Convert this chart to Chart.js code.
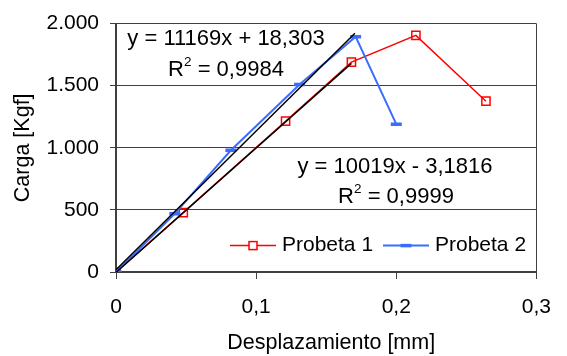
<!DOCTYPE html>
<html>
<head>
<meta charset="utf-8">
<style>
  html, body { margin: 0; padding: 0; background: #ffffff; }
  #wrap { width: 567px; height: 356px; }
</style>
<script src="https://cdn.jsdelivr.net/npm/chart.js@4/dist/chart.umd.min.js"></script>
</head>
<body>
<div id="wrap"><canvas id="c" width="567" height="356"></canvas></div>
<script>
// Probeta 1: desplazamiento [mm] / carga [Kgf]
const p1X = [0, 0.048, 0.121, 0.168, 0.214, 0.264];
const p1Y = [0, 478, 1214, 1690, 1905, 1375];

// Probeta 2
const p2X = [0, 0.042, 0.082, 0.131, 0.171, 0.200];
const p2Y = [0, 470, 980, 1510, 1895, 1190];

// Linear trend lines (slope, intercept, fitted range end)
const trend1 = { slope: 11169, intercept: 18.303, xEnd: 0.1705, eq: 'y = 11169x + 18,303', r2: '0,9984' };
const trend2 = { slope: 10019, intercept: -3.1816, xEnd: 0.168, eq: 'y = 10019x - 3,1816', r2: '0,9999' };

// Axis ticks
const xTicks = [0, 0.1, 0.2, 0.3];
const yTicks = [0, 500, 1000, 1500, 2000];

const seriesNames = ['Probeta 1', 'Probeta 2'];
const xTitle = 'Desplazamiento [mm]';
const yTitle = 'Carga [Kgf]';
const RED = '#ff0000';
const BLUE = '#3b6cff';
const AXIS = '#404040';
const FONT = "'Liberation Sans', Arial, sans-serif";

const toPts = (xs, ys) => xs.map((x, i) => ({ x: x, y: ys[i] }));
const trendPts = t => [
  { x: 0, y: t.intercept },
  { x: t.xEnd, y: t.slope * t.xEnd + t.intercept }
];

const fmtX = v => (Math.round(v * 10) / 10).toString().replace('.', ',');
const fmtY = v => Math.round(v).toString().replace(/\B(?=(\d{3})+(?!\d))/g, '.');

// Equation labels, x-axis title and in-plot legend
const annotations = {
  id: 'annotations',
  afterDatasetsDraw(chart) {
    const ctx = chart.ctx;
    const area = chart.chartArea;
    ctx.save();
    ctx.fillStyle = '#000000';
    ctx.textBaseline = 'middle';

    const drawR2 = (cx, cy, val) => {
      const big = '22px ' + FONT, small = '13.5px ' + FONT;
      ctx.font = big;
      const wR = ctx.measureText('R').width;
      const wRest = ctx.measureText(' = ' + val).width;
      ctx.font = small;
      const w2 = ctx.measureText('2').width;
      const total = wR + w2 + wRest;
      let x = cx - total / 2;
      ctx.textAlign = 'left';
      ctx.font = big;
      ctx.fillText('R', x, cy);
      x += wR;
      ctx.font = small;
      ctx.fillText('2', x, cy - 7);
      x += w2;
      ctx.font = big;
      ctx.fillText(' = ' + val, x, cy);
    };

    ctx.font = '22px ' + FONT;
    ctx.textAlign = 'center';
    ctx.fillText(trend1.eq, area.left + 110, area.top + 15);
    drawR2(area.left + 110, area.top + 46, trend1.r2);

    ctx.font = '22px ' + FONT;
    ctx.textAlign = 'center';
    ctx.fillText(trend2.eq, area.left + 279, area.top + 143);
    drawR2(area.left + 280, area.top + 173, trend2.r2);

    // x-axis title
    ctx.font = '21.5px ' + FONT;
    ctx.textAlign = 'center';
    ctx.fillText(xTitle, (area.left + area.right) / 2 + 5, 343);

    // legend
    const ly = area.top + 222;
    const items = [
      { x0: area.left + 114, color: RED, name: seriesNames[0], style: 'rect' },
      { x0: area.left + 267, color: BLUE, name: seriesNames[1], style: 'line' }
    ];
    items.forEach(it => {
      ctx.strokeStyle = it.color;
      ctx.lineWidth = it.style === 'rect' ? 1.5 : 2;
      ctx.beginPath();
      ctx.moveTo(it.x0, ly);
      ctx.lineTo(it.x0 + 46, ly);
      ctx.stroke();
      const mx = it.x0 + 23;
      if (it.style === 'rect') {
        ctx.fillStyle = '#ffffff';
        ctx.fillRect(mx - 4, ly - 4, 8, 8);
        ctx.lineWidth = 1.5;
        ctx.strokeRect(mx - 4, ly - 4, 8, 8);
      } else {
        ctx.lineWidth = 3.5;
        ctx.beginPath();
        ctx.moveTo(mx - 5.5, ly);
        ctx.lineTo(mx + 5.5, ly);
        ctx.stroke();
      }
      ctx.fillStyle = '#000000';
      ctx.font = '21px ' + FONT;
      ctx.textAlign = 'left';
      ctx.fillText(it.name, it.x0 + 52, ly);
    });
    ctx.restore();
  }
};

new Chart(document.getElementById('c'), {
  type: 'scatter',
  data: {
    datasets: [
      {
        label: 'Lineal (Probeta 2)',
        data: trendPts(trend1),
        showLine: true,
        borderColor: '#000000',
        borderWidth: 1.5,
        pointRadius: 0,
        order: 0
      },
      {
        label: 'Lineal (Probeta 1)',
        data: trendPts(trend2),
        showLine: true,
        borderColor: '#000000',
        borderWidth: 1.5,
        pointRadius: 0,
        order: 1
      },
      {
        label: seriesNames[0],
        data: toPts(p1X, p1Y),
        showLine: true,
        borderColor: RED,
        borderWidth: 1.5,
        pointStyle: 'rect',
        pointRadius: 5.8,
        pointBorderWidth: 1.5,
        pointBorderColor: RED,
        pointBackgroundColor: 'rgba(255,255,255,0)',
        order: 3
      },
      {
        label: seriesNames[1],
        data: toPts(p2X, p2Y),
        showLine: true,
        borderColor: BLUE,
        borderWidth: 2,
        pointStyle: 'line',
        pointRadius: 5.5,
        pointBorderWidth: 3.5,
        pointBorderColor: BLUE,
        order: 2
      }
    ]
  },
  options: {
    responsive: false,
    animation: false,
    devicePixelRatio: 1,
    layout: { padding: { top: 22, right: 16, left: 0, bottom: 0 } },
    plugins: {
      legend: { display: false },
      tooltip: { enabled: false },
      title: { display: false }
    },
    scales: {
      x: {
        type: 'linear',
        min: 0,
        max: 0.3,
        afterFit: s => { s.height = 84; },
        afterBuildTicks: s => { s.ticks = xTicks.map(v => ({ value: v })); },
        ticks: {
          callback: v => fmtX(v),
          color: '#000000',
          padding: 16,
          maxRotation: 0,
          font: { family: FONT, size: 21 }
        },
        grid: {
          drawOnChartArea: true,
          color: c => (c.tick && Math.abs(c.tick.value - 0.3) < 1e-9) ? AXIS : 'rgba(0,0,0,0)',
          tickColor: AXIS,
          tickLength: 7,
          lineWidth: 1
        },
        border: { display: true, color: AXIS, width: 2 },
        title: { display: false }
      },
      y: {
        type: 'linear',
        min: 0,
        max: 2000,
        afterFit: s => { s.width = 116; },
        afterBuildTicks: s => { s.ticks = yTicks.map(v => ({ value: v })); },
        ticks: {
          callback: v => fmtY(v),
          color: '#000000',
          padding: 11,
          font: { family: FONT, size: 21 }
        },
        grid: {
          color: AXIS,
          tickColor: AXIS,
          tickLength: 6,
          lineWidth: 1
        },
        border: { display: true, color: AXIS, width: 2 },
        title: {
          display: true,
          text: yTitle,
          color: '#000000',
          font: { family: FONT, size: 21.5 },
          padding: { top: 10, bottom: 0 }
        }
      }
    }
  },
  plugins: [annotations]
});
</script>
</body>
</html>
